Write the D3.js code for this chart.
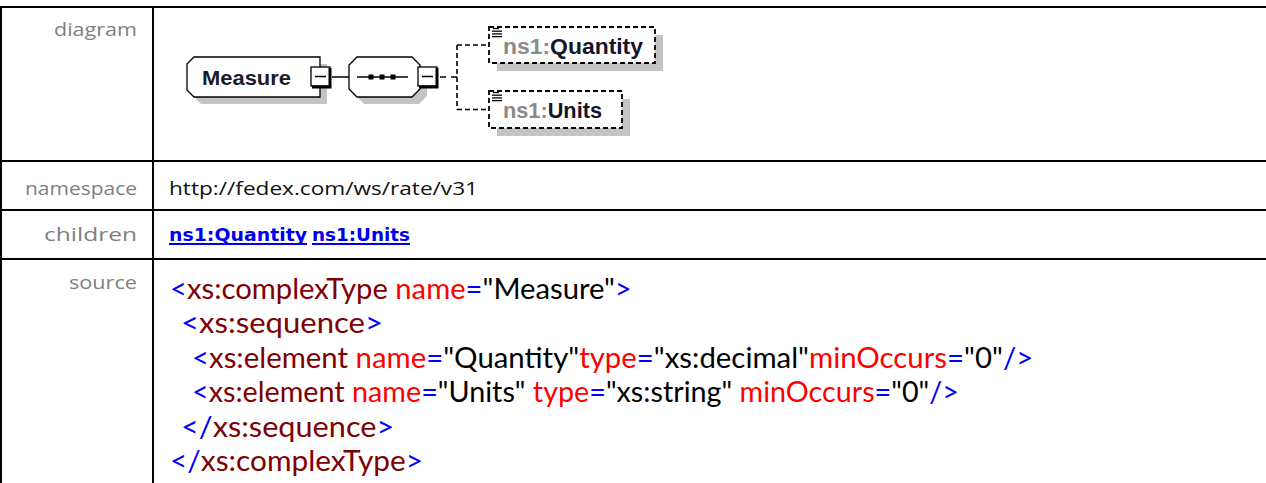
<!DOCTYPE html>
<html><head><meta charset="utf-8">
<script src="https://cdn.jsdelivr.net/npm/d3@7"></script>
<style>html,body{margin:0;padding:0;background:#fff;overflow:hidden}</style>
</head><body><div id="chart"></div>
<script>
// ---- data ----
const rowLabels = ["diagram", "namespace", "children", "source"];
const namespaceText = "http://fedex.com/ws/rate/v31";
const rootName = "Measure";
const childPrefix = "ns1:";
const childNames = ["Quantity", "Units"];
const sourceIndent = [0, 1, 2, 2, 1, 0];
const sourceLines = [
  [["<","b"],["xs:complexType","e"],["\u00a0name","a"],["=","b"],["\"Measure\"","v"],[">","b"]],
  [["<","b"],["xs:sequence","e"],[">","b"]],
  [["<","b"],["xs:element","e"],["\u00a0name","a"],["=","b"],["\"Quantity\"","v"],["type","a"],["=","b"],["\"xs:decimal\"","v"],["minOccurs","a"],["=","b"],["\"0\"","v"],["/>","b"]],
  [["<","b"],["xs:element","e"],["\u00a0name","a"],["=","b"],["\"Units\"","v"],["\u00a0type","a"],["=","b"],["\"xs:string\"","v"],["\u00a0minOccurs","a"],["=","b"],["\"0\"","v"],["/>","b"]],
  [["</","b"],["xs:sequence","e"],[">","b"]],
  [["</","b"],["xs:complexType","e"],[">","b"]]
];

// ---- layout ----
const W = 1266, H = 483;
const L = {
  rowLines: [7, 161, 210, 259],
  divX: 153,
  labelX: 137,
  labelBase: [36, 195, 241, 289],
  labelWidths: [83, 112, 93, 68],
  contentX: 169,
  nsWidth: 309,
  childX: [169, 312], childW: [138, 98], childBase: 241,
  srcX: 170, srcIndentStep: 11, srcBase0: 299, srcStep: 34.4,
  srcWidths: [462, 202, 840, 766, 213, 253],
  kidTextW: [140, 99]
};
const tokColor = {b:"#0000ff", e:"#800000", a:"#ff0000", v:"#000000"};

const svg = d3.select("#chart").append("svg").attr("width", W).attr("height", H)
  .style("display","block");

// table grid
const g = svg.append("g");
g.selectAll("line.h").data(L.rowLines).join("line")
  .attr("x1", 0).attr("x2", W).attr("y1", d=>d).attr("y2", d=>d)
  .attr("stroke", "#000").attr("stroke-width", 2);
g.append("line").attr("x1", 1).attr("x2", 1).attr("y1", 6).attr("y2", H)
  .attr("stroke", "#000").attr("stroke-width", 2);
g.append("line").attr("x1", L.divX).attr("x2", L.divX).attr("y1", 6).attr("y2", H)
  .attr("stroke", "#000").attr("stroke-width", 2);

function fit(sel, w){ sel.attr("textLength", w).attr("lengthAdjust","spacingAndGlyphs"); return sel; }

// labels
g.selectAll("text.lbl").data(rowLabels).join("text").attr("class","lbl")
  .attr("x", L.labelX).attr("y", (d,i)=>L.labelBase[i])
  .attr("text-anchor","end")
  .attr("font-family","'Open Sans', sans-serif").attr("font-size", 18.5)
  .attr("fill","#808080").text(d=>d)
  .each(function(d,i){ fit(d3.select(this), L.labelWidths[i]); });

// namespace
fit(g.append("text").attr("x", L.contentX).attr("y", L.labelBase[1])
  .attr("font-family","'Open Sans', sans-serif").attr("font-size", 19)
  .attr("fill","#111").text(namespaceText), L.nsWidth);

// children links
childNames.forEach((c,i)=>{
  const t = g.append("text").attr("x", L.childX[i]).attr("y", L.childBase)
    .attr("font-family","'DejaVu Sans', sans-serif").attr("font-weight","bold")
    .attr("font-size", 18).attr("fill","#0000ee").text(childPrefix + c);
  fit(t, L.childW[i]);
  g.append("line").attr("x1", L.childX[i]).attr("x2", L.childX[i]+L.childW[i])
    .attr("y1", L.childBase+3).attr("y2", L.childBase+3)
    .attr("stroke","#0000ee").attr("stroke-width",2);
});

// source: one text per line, scaled horizontally to the measured width
sourceLines.forEach((line,i)=>{
  const lg = g.append("g");
  const t = lg.append("text").attr("x", 0).attr("y", 0)
    .attr("font-family","Lato, 'Open Sans', sans-serif").attr("font-size", 28);
  t.selectAll("tspan").data(line).join("tspan")
    .attr("fill", d=>tokColor[d[1]]).text(d=>d[0]);
  const w = t.node().getComputedTextLength();
  const s = L.srcWidths[i] / w;
  lg.attr("transform", `translate(${L.srcX + sourceIndent[i]*L.srcIndentStep},${L.srcBase0 + i*L.srcStep}) scale(${s},1)`);
});

// ---- diagram ----
const dg = svg.append("g");
const shadow = "#c4c4c4";
const cy = 77;
// Measure box (chamfered left side)
const mb = {x0:187, x1:320, y0:57, y1:97, c:7};
function measurePts(dx,dy){
  return [[mb.x0+mb.c,mb.y0],[mb.x1,mb.y0],[mb.x1,mb.y1],[mb.x0+mb.c,mb.y1],[mb.x0,mb.y1-mb.c],[mb.x0,mb.y0+mb.c]]
    .map(p=>[p[0]+dx,p[1]+dy]);
}
const line = d3.line();
dg.append("path").attr("d", line(measurePts(7,7))+"Z").attr("fill", shadow);
dg.append("path").attr("d", line(measurePts(0,0))+"Z").attr("fill","#fff").attr("stroke","#000").attr("stroke-width",1.3);
fit(dg.append("text").attr("x", 202).attr("y", 85)
  .attr("font-family","'Liberation Sans', Arial, sans-serif").attr("font-weight","bold")
  .attr("font-size", 21).attr("fill","#1a1a2a").text(rootName), 89);

function minusBox(x, y){
  dg.append("rect").attr("x",x).attr("y",y).attr("width",19).attr("height",19)
    .attr("fill","#fff").attr("stroke","#000").attr("stroke-width",1.3);
  dg.append("path").attr("d",`M${x+19},${y+1}V${y+20}H${x+1}`).attr("fill","none")
    .attr("stroke","#000").attr("stroke-width",3);
  dg.append("line").attr("x1",x+4).attr("x2",x+15).attr("y1",y+9.5).attr("y2",y+9.5)
    .attr("stroke","#000").attr("stroke-width",1.5);
}
minusBox(311, 67);
dg.append("line").attr("x1",332).attr("x2",349).attr("y1",cy).attr("y2",cy).attr("stroke","#000").attr("stroke-width",1.5);

// sequence octagon
const sq = {x0:349, x1:420, y0:57, y1:97, c:8};
function octPts(dx,dy){
  return [[sq.x0+sq.c,sq.y0],[sq.x1-sq.c,sq.y0],[sq.x1,sq.y0+sq.c],[sq.x1,sq.y1-sq.c],[sq.x1-sq.c,sq.y1],
    [sq.x0+sq.c,sq.y1],[sq.x0,sq.y1-sq.c],[sq.x0,sq.y0+sq.c]].map(p=>[p[0]+dx,p[1]+dy]);
}
dg.append("path").attr("d", line(octPts(7,7))+"Z").attr("fill", shadow);
dg.append("path").attr("d", line(octPts(0,0))+"Z").attr("fill","#fff").attr("stroke","#000").attr("stroke-width",1.3);
dg.append("line").attr("x1",357).attr("x2",408).attr("y1",cy).attr("y2",cy).attr("stroke","#000").attr("stroke-width",1.5);
[371,382,393].forEach(x=>dg.append("rect").attr("x",x-2.5).attr("y",cy-2.5).attr("width",5).attr("height",5).attr("fill","#000"));
minusBox(418, 67);

// connectors
const dash = "5,3";
dg.append("line").attr("x1",440).attr("x2",446).attr("y1",cy).attr("y2",cy).attr("stroke","#000").attr("stroke-width",1.5);
dg.append("line").attr("x1",451).attr("x2",457).attr("y1",cy).attr("y2",cy).attr("stroke","#000").attr("stroke-width",1.5);

const kids = [
  {name: childNames[0], x0:489, x1:655, y0:27, y1:63},
  {name: childNames[1], x0:489, x1:622, y0:91, y1:128}
];
dg.append("line").attr("x1",457).attr("x2",457)
  .attr("y1",(kids[0].y0+kids[0].y1)/2).attr("y2",(kids[1].y0+kids[1].y1)/2)
  .attr("stroke","#000").attr("stroke-width",1.6).attr("stroke-dasharray",dash);
kids.forEach((k,i)=>{
  const my = (k.y0+k.y1)/2;
  dg.append("line").attr("x1",457).attr("x2",k.x0).attr("y1",my).attr("y2",my)
    .attr("stroke","#000").attr("stroke-width",1.6).attr("stroke-dasharray",dash);
  dg.append("rect").attr("x",k.x0+8).attr("y",k.y0+8).attr("width",k.x1-k.x0).attr("height",k.y1-k.y0)
    .attr("fill",shadow);
  dg.append("rect").attr("x",k.x0).attr("y",k.y0).attr("width",k.x1-k.x0).attr("height",k.y1-k.y0)
    .attr("fill","#fff").attr("stroke","#000").attr("stroke-width",1.8).attr("stroke-dasharray",dash);
  // element icon
  [0,2.7,5.4,8.1].forEach((o,j)=>dg.append("line")
    .attr("x1",k.x0+(j===0?4:3)).attr("x2",k.x0+(j===0?10:13))
    .attr("y1",k.y0+1.5+o).attr("y2",k.y0+1.5+o).attr("stroke","#000").attr("stroke-width",1.3));
  const t = dg.append("text").attr("x",k.x0+14).attr("y",my+8.5)
    .attr("font-family","'Liberation Sans', Arial, sans-serif").attr("font-weight","bold").attr("font-size",21.5);
  t.append("tspan").attr("fill","#8a8a8a").text(childPrefix);
  t.append("tspan").attr("fill","#14142a").text(k.name);
  fit(t, L.kidTextW[i]);
});
</script></body></html>
